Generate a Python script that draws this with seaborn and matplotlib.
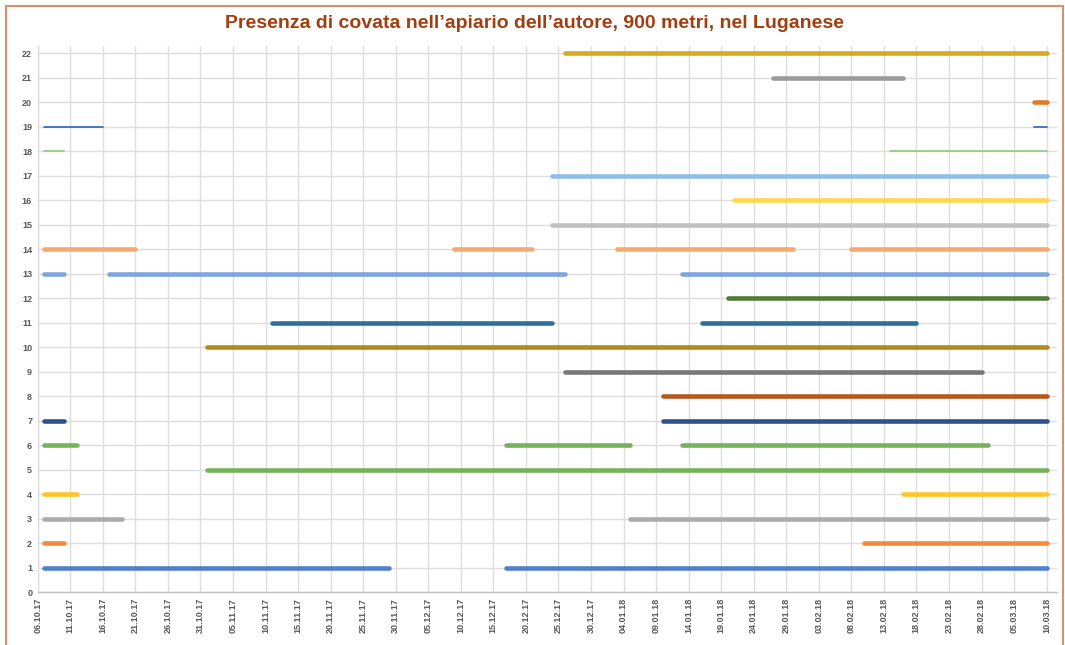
import matplotlib
matplotlib.use("Agg")
import matplotlib.pyplot as plt
import matplotlib.dates as mdates
from matplotlib.patches import Rectangle
import pandas as pd
import seaborn as sns

# Brood periods per hive (hive number -> list of (start, end) dates, dd.mm.yy)
arnie = list(range(1, 23))
periodi = {
    1: [("07.10.17", "29.11.17"), ("17.12.17", "10.03.18")],
    2: [("07.10.17", "10.10.17"), ("10.02.18", "10.03.18")],
    3: [("07.10.17", "19.10.17"), ("05.01.18", "10.03.18")],
    4: [("07.10.17", "12.10.17"), ("16.02.18", "10.03.18")],
    5: [("01.11.17", "10.03.18")],
    6: [("07.10.17", "12.10.17"), ("17.12.17", "05.01.18"), ("13.01.18", "01.03.18")],
    7: [("07.10.17", "10.10.17"), ("10.01.18", "10.03.18")],
    8: [("10.01.18", "10.03.18")],
    9: [("26.12.17", "28.02.18")],
    10: [("01.11.17", "10.03.18")],
    11: [("11.11.17", "24.12.17"), ("16.01.18", "18.02.18")],
    12: [("20.01.18", "10.03.18")],
    13: [("07.10.17", "10.10.17"), ("17.10.17", "26.12.17"), ("13.01.18", "10.03.18")],
    14: [("07.10.17", "21.10.17"), ("09.12.17", "21.12.17"), ("03.01.18", "30.01.18"),
         ("08.02.18", "10.03.18")],
    15: [("24.12.17", "10.03.18")],
    16: [("21.01.18", "10.03.18")],
    17: [("24.12.17", "10.03.18")],
    18: [("07.10.17", "10.10.17"), ("14.02.18", "10.03.18")],
    19: [("07.10.17", "16.10.17"), ("08.03.18", "10.03.18")],
    20: [("08.03.18", "10.03.18")],
    21: [("27.01.18", "16.02.18")],
    22: [("26.12.17", "10.03.18")],
}

colori = {
    1: "#4F80CC", 2: "#F48A3A", 3: "#ABABAB", 4: "#FFC425", 5: "#74B35B",
    6: "#74B35B", 7: "#2F5089", 8: "#B5581C", 9: "#787878", 10: "#B08A1A",
    11: "#2F6FA0", 12: "#507C38", 13: "#7DA5DE", 14: "#F7A86F", 15: "#C0C0C0",
    16: "#FFD650", 17: "#90BEE6", 18: "#9CCB80", 19: "#3A6CC4", 20: "#E27A2A",
    21: "#9B9B9B", 22: "#D6AA22",
}
arnie_sottili = [18, 19]

titolo = "Presenza di covata nell\u2019apiario dell\u2019autore, 900 metri, nel Luganese"
data_inizio = "06.10.17"
data_fine = "10.03.18"

# Long table: two points (start, end) for each segment
righe = []
seg_id = 0
for a in arnie:
    for s, e in periodi[a]:
        righe.append({"arnia": a, "seg": seg_id, "data": pd.to_datetime(s, format="%d.%m.%y")})
        righe.append({"arnia": a, "seg": seg_id, "data": pd.to_datetime(e, format="%d.%m.%y")})
        seg_id += 1
df = pd.DataFrame(righe)

sns.set_theme(style="white")
plt.rcParams["font.family"] = ["Liberation Sans", "DejaVu Sans"]

fig = plt.figure(figsize=(10.65, 6.45), dpi=100)
ax = fig.add_axes([0.0354, 0.0817, 0.9571, 0.8474])

for sid, g in df.groupby("seg"):
    a = g["arnia"].iloc[0]
    lw = 1.3 if a in arnie_sottili else 3.3
    sns.lineplot(data=g, x="data", y="arnia", color=colori[a], linewidth=lw,
                 solid_capstyle="round", estimator=None, ax=ax, legend=False)

t0 = pd.to_datetime(data_inizio, format="%d.%m.%y")
t1 = pd.to_datetime(data_fine, format="%d.%m.%y")
ax.set_xlim(t0, t0 + pd.Timedelta(days=156.6))
ax.set_ylim(0, 22.31)

tick_date = pd.date_range(t0, t1, freq="5D")
ax.set_xticks(tick_date)
ax.xaxis.set_major_formatter(mdates.DateFormatter("%d.%m.%y"))
ax.set_yticks(range(0, 23))

for lab in ax.get_xticklabels():
    lab.set_rotation(90)
ax.tick_params(axis="both", labelsize=6.5, colors="#595959", length=0, pad=4)
for lab in ax.get_xticklabels() + ax.get_yticklabels():
    lab.set_fontweight("bold")
    lab.set_color("#595959")

ax.grid(True, color="#DEDEDE", linewidth=1.0)
ax.set_axisbelow(True)
for side in ["top", "right"]:
    ax.spines[side].set_visible(False)
ax.spines["left"].set_color("#DEDEDE")
ax.spines["bottom"].set_color("#BFBFBF")
ax.spines["left"].set_linewidth(1.0)
ax.spines["bottom"].set_linewidth(1.0)
ax.set_xlabel("")
ax.set_ylabel("")

fig.text(0.502, 0.964, titolo, ha="center", va="center", fontsize=14.0,
         fontweight="bold", color="#A23E10")

# Outer frame of the chart
frame = Rectangle((5.5 / 1065, -0.05), (1063 - 5.5) / 1065, 1.05 - 5.5 / 645,
                  transform=fig.transFigure, fill=False, edgecolor="#D3936F",
                  linewidth=1.5, clip_on=False)
fig.patches.append(frame)

fig.savefig("out.png", dpi=100)
